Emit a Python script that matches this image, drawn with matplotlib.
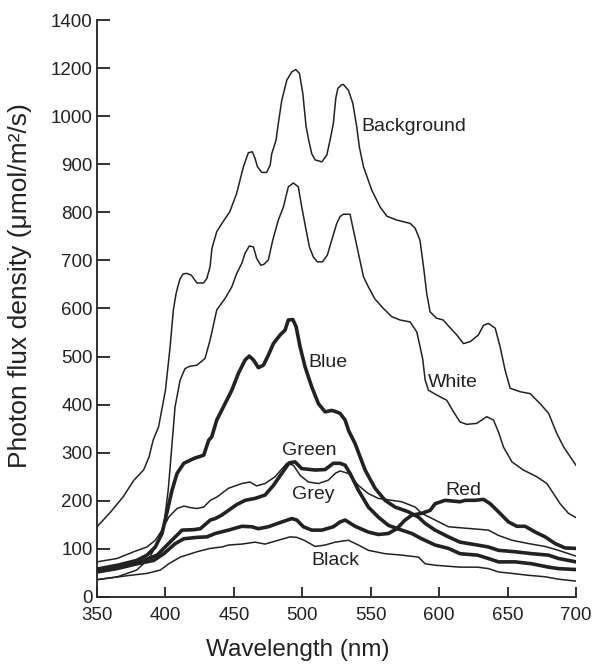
import numpy as np
import matplotlib
matplotlib.use('Agg')
import matplotlib.pyplot as plt

plt.rcParams['font.family'] = ['Liberation Sans', 'DejaVu Sans']

# wavelength (nm) / photon flux density
bg_wl = [350, 360, 369, 377, 384, 388, 391, 395, 400, 403.4, 405.8, 407.7, 409, 410.7, 413, 415.6, 419, 423,
         427.7, 430.2, 432.6, 434, 437.5, 442, 447, 452, 457, 460.6, 463.5, 465.5, 467.2, 470.4, 474, 476.5,
         477.7, 480.8, 482.5, 485, 488.7, 492.3, 495.2, 497.9, 500.4, 502.8, 504.7, 506.9, 509.4, 514.3,
         517.9, 520.3, 522.7, 524.5, 526, 528.5, 530, 533.7, 536.9, 539.8, 541.7, 544.7, 550.8, 556.9, 561.8,
         569, 578.8, 582.5, 586, 588.6, 591, 593.4, 598, 603, 608, 612.9, 617.8, 622.7, 628.7, 632.4, 636,
         641, 644.6, 648.2, 651.9, 659, 666.5, 673.8, 680, 686, 691, 700]
bg_val = [146, 177, 208, 243, 264, 291, 326, 354, 430, 520, 597, 630, 645, 662, 672, 673, 669, 653,
          653, 662, 687, 725, 760, 780, 801, 839, 895, 924, 926, 912, 895, 883, 883, 898,
          922, 950, 985, 1066, 1150, 1184, 1194, 1178, 1094, 978, 950, 922, 909, 905,
          919, 950, 985, 1075, 1116, 1130, 1132, 1108, 1054, 978, 936, 895, 846, 811, 792,
          784, 777, 767, 742, 687, 630, 593, 580, 576, 560, 545, 527, 531, 545, 565, 569,
          559, 520, 472, 434, 427, 423, 402, 382, 340, 312, 274]

white_wl = [350, 365, 379, 388, 394, 399, 402, 404, 407, 410.7, 414.3, 418, 422.9, 428.9, 432.6, 437.5,
            443.6, 448.5, 452.1, 455.8, 458.2, 461.3, 464.3, 466.7, 469.7, 472, 475.2, 478.4, 482.5, 486.2,
            489.8, 493.5, 497.1, 499.6, 502.8, 505.2, 508.1, 511, 514.7, 518.3, 521.5, 525.2, 527.6, 530,
            534.9, 537.9, 541, 544.7, 548.3, 553, 559.3, 565.4, 571.5, 578.8, 583.7, 586.1, 588, 589.8,
            592.2, 598.3, 605.6, 610.5, 615.3, 620.2, 627.5, 634.8, 639.7, 643.4, 647, 653.2, 661.6, 671.4,
            678.7, 683.6, 688.4, 694.5, 700]
white_val = [36, 42, 56, 80, 111, 153, 222, 290, 395, 451, 475, 480, 482, 496, 534, 597,
             621, 645, 673, 694, 715, 730, 728, 704, 690, 692, 701, 742, 784, 811,
             853, 861, 853, 811, 763, 728, 707, 697, 697, 711, 742, 777, 791, 796,
             796, 756, 715, 666, 645, 620, 600, 583, 576, 572, 551, 520, 495, 451,
             430, 420, 409, 385, 364, 359, 361, 375, 368, 343, 312, 281, 264, 250,
             236, 215, 194, 174, 165]

blue_wl = [350, 365, 379, 386.5, 392.6, 397.5, 401.2, 404.8, 408.5, 413.4, 420.7, 428, 431.6, 433.8, 437.5,
           442.3, 448.5, 453.3, 458.2, 461.3, 464.3, 467.9, 471.6, 475.2, 478.9, 483.8, 487.4, 489.8, 493.1,
           495.5, 498.4, 502, 506.9, 511.8, 516.7, 521.5, 524, 527.6, 531.3, 534, 538.6, 545.9, 553.2, 560.5,
           567.8, 577.6, 584.9, 589.8, 597.1, 606.8, 615.3, 628, 636, 643.4, 655.6, 667.8, 680, 687.2, 700]
blue_val = [58, 66, 76, 87, 104, 132, 177, 222, 257, 278, 288, 295, 326, 333, 368,
            395, 430, 465, 493, 501, 493, 477, 482, 503, 527, 545, 555, 576, 577,
            562, 520, 479, 437, 402, 385, 388, 386, 382, 368, 345, 319, 264, 226, 201,
            187, 177, 166, 153, 139, 125, 114, 108, 104, 97, 94, 90, 87, 80, 73]

green_wl = [350, 364.6, 381.7, 393.9, 401.2, 407.2, 412.1, 420.7, 425.5, 432.8, 436.3, 441, 446, 452, 458.2,
            465.5, 472.8, 478.9, 485, 490.4, 494.7, 499.6, 509.4, 516.7, 522.7, 527.6, 531.3, 534.9, 541,
            548.3, 555.6, 562.9, 572.7, 580, 587.3, 597.1, 606.8, 615.3, 628, 636, 643.4, 655.6, 667.8, 680,
            687.2, 700]
green_val = [56, 62, 73, 87, 108, 125, 139, 140, 142, 160, 163, 170, 180, 192, 201,
             205, 212, 232, 257, 279, 281, 267, 264, 265, 278, 278, 274, 257, 222,
             187, 166, 149, 139, 132, 121, 108, 101, 90, 87, 80, 73, 73, 69, 62,
             59, 57]

grey_wl = [350, 364.6, 376.8, 386.5, 392.6, 397.5, 402.4, 408.5, 413.4, 418, 423.1, 428, 432.8, 437.7, 446,
           455.8, 461.8, 466.7, 472.8, 480.1, 488.7, 493.5, 498.4, 504.5, 511.8, 519.1, 524, 527.6, 533.7,
           541, 548.3, 555.6, 565.4, 572.7, 582.5, 587.3, 597.1, 606.8, 615.3, 623.9, 636, 643.4, 653.2,
           665.4, 677.5, 687.2, 700]
grey_val = [73, 80, 94, 104, 118, 139, 166, 184, 189, 186, 184, 187, 201, 208, 226,
            236, 239, 231, 236, 250, 278, 274, 253, 239, 236, 243, 257, 262, 257,
            232, 215, 205, 201, 198, 187, 174, 160, 146, 144, 142, 139, 128, 118,
            111, 105, 97, 85]

red_wl = [350, 364.6, 379.2, 391.4, 398.8, 407.2, 413.4, 423.1, 430.4, 436.3, 446, 455.8, 463.1, 467.9, 475.2,
          485, 492.3, 496, 500.8, 506.9, 514.3, 522.7, 527.6, 531.3, 538.6, 548.3, 555.6, 562.9, 569.1, 575.1,
          580, 587.3, 593.4, 597.1, 604.4, 615.3, 619, 626.3, 632.4, 637.3, 643.4, 650.7, 656.8, 662.9,
          670.2, 677.5, 684.8, 692.1, 700]
red_val = [52, 59, 69, 76, 90, 111, 121, 124, 125, 132, 139, 147, 146, 142, 146,
           156, 163, 160, 146, 139, 139, 146, 156, 160, 147, 135, 130, 132, 142, 160,
           170, 174, 180, 194, 201, 198, 201, 201, 203, 194, 177, 156, 147, 147,
           135, 125, 111, 102, 101]

black_wl = [350, 374.3, 386.5, 396.3, 402.4, 410.9, 423, 432.6, 441.4, 446, 455.8, 465.5, 472.8, 482.5, 491,
            496, 502, 509.4, 516.7, 524, 533.7, 541, 548.3, 560.5, 572.7, 584.9, 589.8, 597.1, 615.3, 628,
            636, 643.4, 653.2, 665.4, 677.5, 687.2, 700]
black_val = [36, 45, 49, 56, 69, 83, 94, 101, 104, 108, 110, 114, 110, 118, 125,
             124, 117, 105, 108, 114, 118, 108, 97, 90, 87, 83, 69, 66, 62, 62,
             59, 52, 49, 45, 42, 37, 33]

# label text, left edge wavelength, height
labels = ['Background', 'White', 'Blue', 'Green', 'Grey', 'Red', 'Black']
label_x = [543.5, 591.7, 504.5, 485.2, 492.3, 604.4, 507]
label_y = [979, 447, 488, 305, 214, 222, 76]

y_ticks = [0, 100, 200, 300, 400, 500, 600, 700, 800, 900, 1000, 1200, 1400]


# the original axis steps 200 per tick above 1000
def fwd(v):
    v = np.asarray(v, dtype=float)
    return np.where(v <= 1000, v, 1000 + (v - 1000) / 2)


def inv(p):
    p = np.asarray(p, dtype=float)
    return np.where(p <= 1000, p, 1000 + (p - 1000) * 2)


ink = '#222222'
thin = 1.1
thick = 2.6

fig = plt.figure(figsize=(5.92, 6.67), dpi=100)
ax = fig.add_axes([0.1639, 0.105, 0.809, 0.865])

ax.plot(bg_wl, bg_val, color=ink, lw=thin)
ax.plot(white_wl, white_val, color=ink, lw=thin)
ax.plot(grey_wl, grey_val, color=ink, lw=thin)
ax.plot(black_wl, black_val, color=ink, lw=thin)
ax.plot(blue_wl, blue_val, color=ink, lw=thick)
ax.plot(green_wl, green_val, color=ink, lw=thick)
ax.plot(red_wl, red_val, color=ink, lw=thick)

for t, x, y in zip(labels, label_x, label_y):
    ax.text(x, y, t, fontsize=14, color=ink, ha='left', va='center')

ax.set_yscale('function', functions=(fwd, inv))
ax.set_xlim(350, 700)
ax.set_ylim(0, 1400)
ax.set_xticks([350, 400, 450, 500, 550, 600, 650, 700])
ax.set_yticks(y_ticks)
ax.set_yticklabels([str(v) for v in y_ticks])
ax.minorticks_off()

for s in ['top', 'right']:
    ax.spines[s].set_visible(False)
for s in ['left', 'bottom']:
    ax.spines[s].set_linewidth(1.3)
    ax.spines[s].set_color(ink)

ax.tick_params(axis='y', direction='in', length=9, width=1.3, pad=3, labelsize=13.5, colors=ink)
ax.tick_params(axis='x', direction='in', length=7, width=1.3, pad=7, labelsize=13.5, colors=ink)

ax.set_xlabel('Wavelength (nm)', fontsize=17.5, color=ink)
ax.set_ylabel('Photon flux density (μmol/m²/s)', fontsize=19, color=ink)
ax.xaxis.set_label_coords(0.42, -0.072)
ax.yaxis.set_label_coords(-0.136, 0.54)

fig.savefig('out.png', dpi=100)
